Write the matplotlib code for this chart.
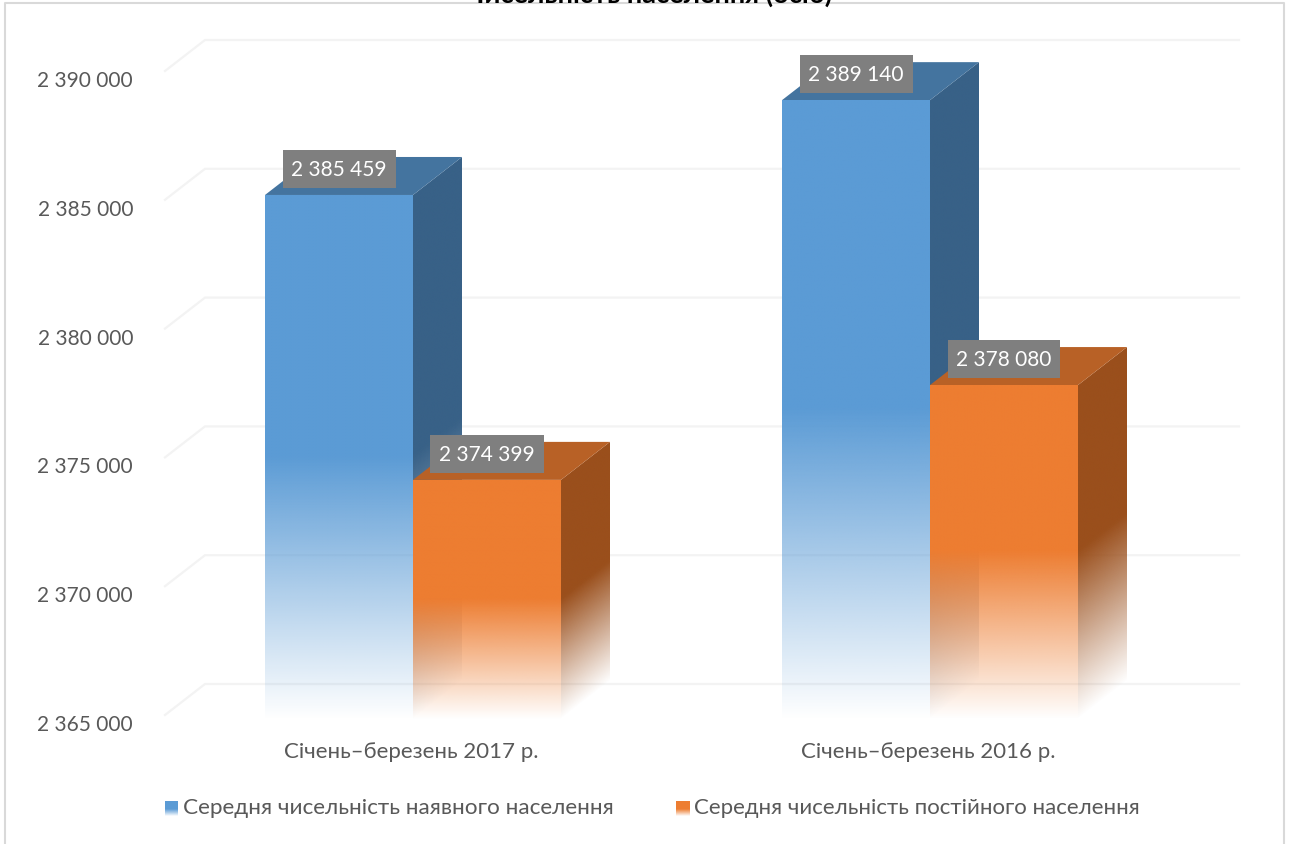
import numpy as np
import matplotlib
matplotlib.use("Agg")
import matplotlib.pyplot as plt
from matplotlib.colors import to_rgb
from matplotlib.patches import Polygon
from matplotlib.lines import Line2D
from matplotlib.transforms import Affine2D

plt.rcParams['font.family'] = ['Lato', 'Noto Sans', 'DejaVu Sans']

title = "Чисельність населення (осіб)"
categories = ["Січень–березень 2017 р.", "Січень–березень 2016 р."]
series_names = ["Середня чисельність наявного населення", "Середня чисельність постійного населення"]
present = [2385459, 2389140]
permanent = [2374399, 2378080]
y_ticks = [2365000, 2370000, 2375000, 2380000, 2385000, 2390000]

front_colors = ["#5B9BD5", "#ED7D31"]
top_colors = ["#44749F", "#B86126"]
side_colors = ["#386187", "#9A4F1C"]
text_color = "#595959"

W, H = 1290, 845
# pixel layout of the front plane, y counted from the top of the picture
PX_LEFT, PX_RIGHT, PX_BASE, PX_TOP = 165, 1239, 723, 41
PX_CAT0, PX_STEP = 413, 517
PX_PER_5000 = 128.8
DEPTH_X_PX, DEPTH_Y_PX = 49, 38
Y_MIN = 2365000

bar_w = 148 / PX_STEP
depth_x = DEPTH_X_PX / PX_STEP
depth_y = DEPTH_Y_PX / PX_PER_5000 * 5000
floor = Y_MIN + 100  # bars are fully faded just above the axis line

fig = plt.figure(figsize=(W / 100, H / 100), dpi=100, facecolor="white")
ax = fig.add_axes([PX_LEFT / W, 1 - PX_BASE / H, (PX_RIGHT - PX_LEFT) / W, (PX_BASE - PX_TOP) / H])
ax.patch.set_alpha(0)
xlim = ((PX_LEFT - PX_CAT0) / PX_STEP, (PX_RIGHT - PX_CAT0) / PX_STEP)
ylim = (Y_MIN, Y_MIN + (PX_BASE - PX_TOP) / PX_PER_5000 * 5000)
px = Affine2D().scale(1, -1).translate(0, H)


def fade(t):
    # solid over the upper half of the face, fading out to the floor
    return np.clip(t / 0.5, 0, 1)


def face_image(color, x0, x1, top, slant):
    # slant is how far the face climbs from its left edge to its right edge
    ny = 700
    nx = 40 if slant == 0 else 120
    u = (np.arange(nx) + 0.5) / nx
    ytop = top + slant
    v = floor + (np.arange(ny) + 0.5) / ny * (ytop - floor)
    uu, vv = np.meshgrid(u, v)
    t = (vv - uu * slant - floor) / (top - floor)
    img = np.zeros((ny, nx, 4))
    img[:, :, :3] = to_rgb(color)
    img[:, :, 3] = fade(np.clip(t, 0, 1))
    im = ax.imshow(img, extent=[x0, x1, floor, ytop], origin="lower", aspect="auto",
                   interpolation="bilinear", zorder=3)
    clip = Polygon([[x0, floor], [x1, floor + slant], [x1, top + slant], [x0, top]],
                   transform=ax.transData, fc="none", ec="none")
    ax.add_patch(clip)
    im.set_clip_path(clip)
    im.set_clip_on(True)


def draw_bar(x0, value, i):
    x1 = x0 + bar_w
    face_image(side_colors[i], x1, x1 + depth_x, value, depth_y)
    ax.fill([x0, x1, x1 + depth_x, x0 + depth_x], [value, value, value + depth_y, value + depth_y],
            color=top_colors[i], lw=0, zorder=3)
    face_image(front_colors[i], x0, x1, value, 0)
    ax.annotate(f"{value:,}".replace(",", " "), (x0 + bar_w / 2, value), xytext=(0, 26 * 0.72),
                textcoords="offset points", ha="center", va="center", color="white", fontsize=15, zorder=5,
                bbox=dict(boxstyle="square,pad=0.42", fc="#7F7F7F", ec="none"))


# gridlines on the back wall with their slant to the axis
grid_dx = 40 / PX_STEP
grid_dy = 31 / PX_PER_5000 * 5000
for v in y_ticks:
    back = v + depth_y
    ax.plot([xlim[0], xlim[0] + grid_dx, xlim[1]], [back - grid_dy, back, back], color="#F3F3F3", lw=1.6,
            zorder=1, clip_on=False, solid_joinstyle="miter")

for k in range(len(categories)):
    draw_bar(k - bar_w, present[k], 0)
    draw_bar(k, permanent[k], 1)

ax.set_yticks(y_ticks)
ax.set_yticklabels([f"{v:,}".replace(",", " ") for v in y_ticks], color=text_color, fontsize=15)
ax.set_xticks(range(len(categories)))
ax.set_xticklabels(categories, color=text_color, fontsize=16)
ax.tick_params(axis="both", length=0)
ax.tick_params(axis="y", pad=23)
ax.tick_params(axis="x", pad=14)
offset = Affine2D().translate(-2, 0)
for lab in ax.get_xticklabels():
    lab.set_transform(lab.get_transform() + offset)
for s in ax.spines.values():
    s.set_visible(False)

# frame and clipped title
fig.add_artist(Line2D([5, 5, 1284, 1284], [845, 4, 4, 845], transform=px, color="#D9D9D9", lw=1.5))
fig.text(649 / W, 1 - 3 / H, title, ha="center", va="baseline", fontsize=19.6, fontweight="bold", color="black")

# legend
legend_boxes = [(165, 178), (676, 690)]
legend_text_x = [183, 694]
legend_sizes = [16.2, 16]
for i, name in enumerate(series_names):
    x0, x1 = legend_boxes[i]
    X = np.array([[x0, x1]] * 15)
    Y = np.array([[y, y] for y in np.linspace(817, 802, 15)])
    t = (np.arange(14) + 0.5) / 14
    c = np.zeros((14, 1, 4))
    c[:, :, :3] = to_rgb(front_colors[i])
    c[:, 0, 3] = fade(t)
    ax.pcolormesh(X, Y, c, shading="flat", antialiased=False, transform=px, clip_on=False, zorder=4)
    fig.text(legend_text_x[i] / W, 1 - 808 / H, name, ha="left", va="center", fontsize=legend_sizes[i], color=text_color)

ax.set_xlim(*xlim)
ax.set_ylim(*ylim)

fig.savefig("out.png", dpi=100, facecolor="white")
